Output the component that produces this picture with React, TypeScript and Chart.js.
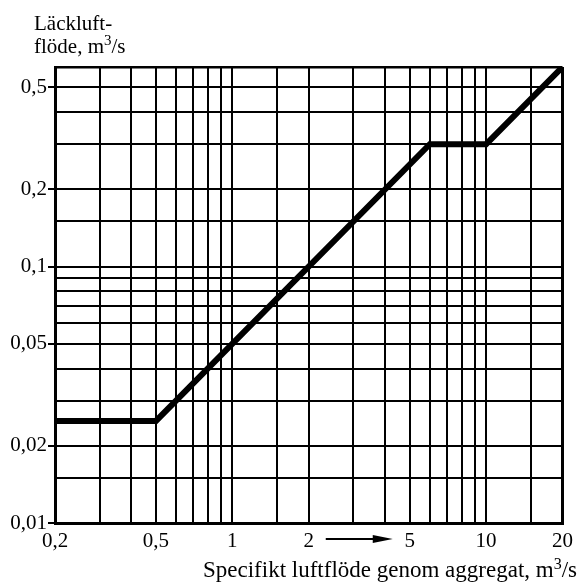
import React, { useEffect, useRef } from 'react';
import { Chart, registerables } from 'chart.js';

Chart.register(...registerables);

// ---- data ----
const flowX = [0.2, 0.5, 6, 10, 20];
const leakY = [0.025, 0.025, 0.3, 0.3, 0.6];

const xGridValues = [0.2, 0.3, 0.4, 0.5, 0.6, 0.7, 0.8, 0.9, 1, 1.5, 2, 3, 4, 5, 6, 7, 8, 9, 10, 15, 20];
const yGridValues = [0.01, 0.015, 0.02, 0.03, 0.04, 0.05, 0.06, 0.07, 0.08, 0.09, 0.1, 0.15, 0.2, 0.3, 0.4, 0.5, 0.6];

const xTickValues = [0.2, 0.5, 1, 2, 5, 10, 20];
const xTickLabels = ['0,2', '0,5', '1', '2', '5', '10', '20'];
const yTickValues = [0.01, 0.02, 0.05, 0.1, 0.2, 0.5];
const yTickLabels = ['0,01', '0,02', '0,05', '0,1', '0,2', '0,5'];

const yTitleLine1 = 'Läckluft-';
const yTitleLine2 = ['flöde, m', '3', '/s'];
const xTitle = ['Specifikt luftflöde genom aggregat, m', '3', '/s'];

const FONT = '"Liberation Serif", "Times New Roman", serif';

const findIdx = (arr: number[], v: number) => arr.findIndex((a) => Math.abs(a - v) < 1e-9);

function drawSup(
  ctx: CanvasRenderingContext2D,
  parts: string[],
  x: number,
  y: number,
  alignRight: boolean,
  bigSize: number,
  smallSize: number,
  rise: number
) {
  const big = `${bigSize}px ${FONT}`;
  const small = `${smallSize}px ${FONT}`;
  const widths = parts.map((p, i) => {
    ctx.font = i === 1 ? small : big;
    return ctx.measureText(p).width;
  });
  const total = widths.reduce((a, b) => a + b, 0);
  let cx = alignRight ? x - total : x;
  parts.forEach((p, i) => {
    ctx.font = i === 1 ? small : big;
    ctx.fillText(p, cx, i === 1 ? y - rise : y);
    cx += widths[i];
  });
}

const annotations = {
  id: 'annotations',
  afterDraw(chart: any) {
    const ctx: CanvasRenderingContext2D = chart.ctx;
    const xs = chart.scales.x;
    ctx.save();
    ctx.fillStyle = '#000';
    ctx.strokeStyle = '#000';
    ctx.textAlign = 'left';
    ctx.textBaseline = 'alphabetic';
    ctx.font = `21px ${FONT}`;
    ctx.fillText(yTitleLine1, 34, 30);
    drawSup(ctx, yTitleLine2, 34, 53, false, 21, 15, 8);
    drawSup(ctx, xTitle, 577, 577, true, 23, 16, 8);

    // arrow between "2" and "5"
    const a0 = xs.getPixelForValue(2) + 17;
    const a1 = xs.getPixelForValue(5) - 17;
    const ay = 539;
    ctx.lineWidth = 2;
    ctx.beginPath();
    ctx.moveTo(a0, ay);
    ctx.lineTo(a1 - 14, ay);
    ctx.stroke();
    ctx.beginPath();
    ctx.moveTo(a1, ay);
    ctx.lineTo(a1 - 20, ay - 4);
    ctx.lineTo(a1 - 20, ay + 4);
    ctx.closePath();
    ctx.fill();
    ctx.restore();
  },
};

export default function App() {
  const ref = useRef<HTMLCanvasElement | null>(null);

  useEffect(() => {
    if (!ref.current) return;
    const chart = new Chart(ref.current, {
      type: 'line',
      data: {
        datasets: [
          {
            data: flowX.map((x, i) => ({ x, y: leakY[i] })),
            borderColor: '#000',
            borderWidth: 6,
            pointRadius: 0,
            borderJoinStyle: 'miter',
            tension: 0,
          },
        ],
      },
      options: {
        animation: false,
        responsive: true,
        maintainAspectRatio: false,
        layout: { padding: { left: 0, top: 67, right: 13, bottom: 0 } },
        plugins: { legend: { display: false }, tooltip: { enabled: false } },
        scales: {
          x: {
            type: 'logarithmic',
            min: 0.2,
            max: 20,
            afterBuildTicks: (s: any) => {
              s.ticks = xGridValues.map((v) => ({ value: v }));
            },
            afterFit: (s: any) => {
              s.height = 61;
            },
            ticks: {
              autoSkip: false,
              maxRotation: 0,
              minRotation: 0,
              padding: 6,
              color: '#000',
              font: { family: FONT, size: 21 },
              callback: (v: any) => {
                const i = findIdx(xTickValues, Number(v));
                return i >= 0 ? xTickLabels[i] : '';
              },
            },
            grid: {
              color: '#000',
              lineWidth: (c: any) => (c.tick && Math.abs(c.tick.value - 20) < 1e-9 ? 3 : 2),
              drawTicks: false,
            },
            border: { display: true, color: '#000', width: 3 },
          },
          y: {
            type: 'logarithmic',
            min: 0.01,
            max: 0.6,
            afterBuildTicks: (s: any) => {
              s.ticks = yGridValues.map((v) => ({ value: v }));
            },
            afterFit: (s: any) => {
              s.width = 55;
            },
            ticks: {
              autoSkip: false,
              padding: 1,
              color: '#000',
              font: { family: FONT, size: 21 },
              callback: (v: any) => {
                const i = findIdx(yTickValues, Number(v));
                return i >= 0 ? yTickLabels[i] : '';
              },
            },
            grid: {
              color: '#000',
              lineWidth: (c: any) => (c.tick && Math.abs(c.tick.value - 0.6) < 1e-9 ? 2.5 : 2),
              drawTicks: true,
              tickLength: 7,
              tickColor: (c: any) =>
                c.tick && findIdx(yTickValues, c.tick.value) >= 0 ? '#000' : 'rgba(0,0,0,0)',
            },
            border: { display: true, color: '#000', width: 3 },
          },
        },
      },
      plugins: [annotations],
    } as any);
    return () => chart.destroy();
  }, []);

  return (
    <div style={{ position: 'absolute', left: 0, top: 0, width: 579, height: 584, background: '#fff' }}>
      <canvas ref={ref} />
    </div>
  );
}
